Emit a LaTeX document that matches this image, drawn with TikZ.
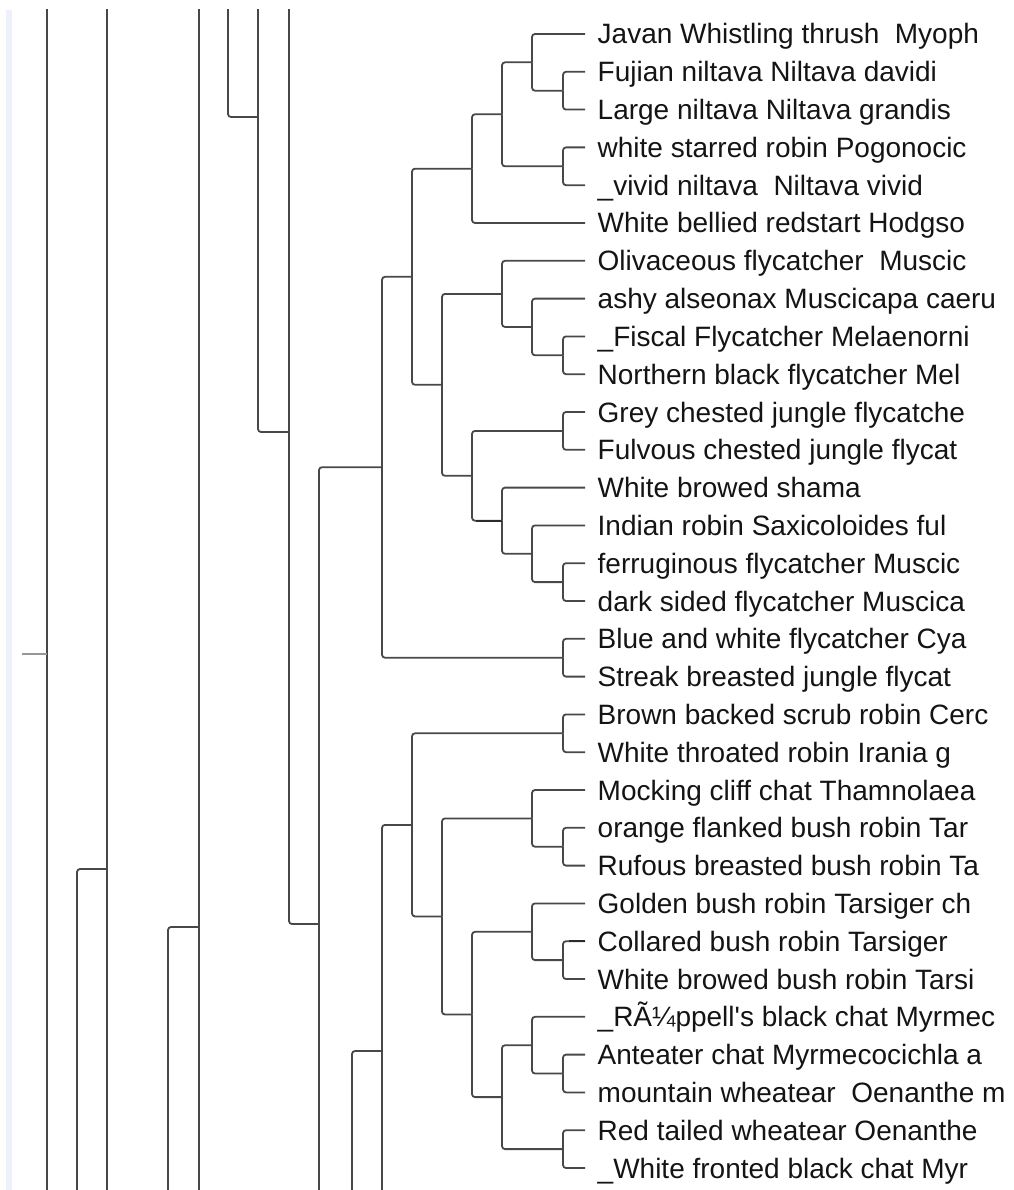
\documentclass[tikz,border=0pt]{standalone}
\usepackage{fontspec}
\setmainfont{Liberation Sans}[Ligatures={TeXOff,CommonOff}]
\definecolor{branch}{RGB}{72,72,72}
\definecolor{stubgray}{RGB}{150,150,150}
\definecolor{rail}{RGB}{237,242,250}
\definecolor{labelink}{RGB}{20,20,20}
\begin{document}
\begin{tikzpicture}[x=1pt,y=-1pt,
  edge/.style={draw=branch,line width=1.8pt,rounded corners=3pt},
  heavy/.style={draw=branch!60!black,line width=2.4pt},
  rootstub/.style={draw=stubgray,line width=1.8pt},
  tip/.style={anchor=west,inner xsep=12.5pt,inner ysep=0pt,
    text height=20pt,text depth=0pt,text=labelink,
    font=\fontsize{28}{30}\selectfont}]
\useasboundingbox (0,0) rectangle (1013,1190);
% scroll rail on the left edge
\fill[rail] (6,10) rectangle (12,1190);

% ---- tip labels (one row every 37.8 units) ----
\foreach \i/\t in {
 1/{Javan Whistling thrush \ Myoph},
 2/{Fujian niltava Niltava davidi},
 3/{Large niltava Niltava grandis},
 4/{white starred robin Pogonocic},
 5/{\_vivid niltava \ Niltava vivid},
 6/{White bellied redstart Hodgso},
 7/{Olivaceous flycatcher \ Muscic},
 8/{ashy alseonax Muscicapa caeru},
 9/{\_Fiscal Flycatcher Melaenorni},
 10/{Northern black flycatcher Mel},
 11/{Grey chested jungle flycatche},
 12/{Fulvous chested jungle flycat},
 13/{White browed shama},
 14/{Indian robin Saxicoloides ful},
 15/{ferruginous flycatcher Muscic},
 16/{dark sided flycatcher Muscica},
 17/{Blue and white flycatcher Cya},
 18/{Streak breasted jungle flycat},
 19/{Brown backed scrub robin Cerc},
 20/{White throated robin Irania g},
 21/{Mocking cliff chat Thamnolaea},
 22/{orange flanked bush robin Tar},
 23/{Rufous breasted bush robin Ta},
 24/{Golden bush robin Tarsiger ch},
 25/{Collared bush robin Tarsiger},
 26/{White browed bush robin Tarsi},
 27/{\_RÃ¼ppell's black chat Myrmec},
 28/{Anteater chat Myrmecocichla a},
 29/{mountain wheatear \ Oenanthe m},
 30/{Red tailed wheatear Oenanthe},
 31/{\_White fronted black chat Myr}}
 \node[tip] (l\i) at (585,{34+37.8*(\i-1)}) {\t};

% ---- internal nodes: (depth, midpoint of children) ----
% upper clade
\coordinate (a2) at (563,90.7);
\coordinate (a1) at (532,62.35);
\coordinate (a3) at (563,166.3);
\coordinate (a4) at (502,114.3);
\coordinate (a5) at (472,168.7);
\coordinate (b1) at (563,355.3);
\coordinate (b2) at (532,326.95);
\coordinate (b3) at (502,293.9);
\coordinate (b4) at (563,430.9);
\coordinate (b5) at (563,582.1);
\coordinate (b6) at (532,553.75);
\coordinate (b7) at (502,520.7);
\coordinate (b8) at (472,475.8);
\coordinate (b9) at (442,384.8);
\coordinate (c1) at (412,276.8);
\coordinate (c2) at (563,657.7);
\coordinate (c3) at (382,467.2);
% lower clade
\coordinate (d1) at (563,733.3);
\coordinate (d2) at (563,846.7);
\coordinate (d3) at (532,818.4);
\coordinate (d4) at (563,960.1);
\coordinate (d5) at (532,931.8);
\coordinate (d6) at (563,1073.5);
\coordinate (d7) at (532,1045.2);
\coordinate (d8) at (563,1149.1);
\coordinate (d9) at (502,1097.1);
\coordinate (d10) at (472,1014.5);
\coordinate (d11) at (442,916.4);
\coordinate (d12) at (412,824.9);
\coordinate (d13) at (382,1051);
\coordinate (d13b) at (420,1277);
\coordinate (d14) at (352,1380.8);
\coordinate (d14b) at (400,1710);
% deeper ancestors
\coordinate (c4) at (319,924);
\coordinate (c5) at (289,432);
\coordinate (c5a) at (320,-60);
\coordinate (e1) at (258,117);
\coordinate (e1a) at (300,-198);
\coordinate (e2) at (228,-300);
\coordinate (f1) at (199,927);
\coordinate (f1a) at (240,-400);
\coordinate (f1b) at (240,2254);
\coordinate (f0) at (168,1600);
\coordinate (g1) at (107,869);
\coordinate (g1a) at (150,-500);
\coordinate (g1b) at (150,2238);
\coordinate (g0) at (77,1600);
\coordinate (h) at (47,654);
\coordinate (ha) at (70,-800);
\coordinate (hb) at (70,2108);
\coordinate (root) at (22,654);

\begin{scope}
\clip (0,10) rectangle (1013,1190);
% upper clade
\draw[edge] (a2) |- (l2.west);  \draw[edge] (a2) |- (l3.west);
\draw[edge] (a1) |- (l1.west);  \draw[edge] (a1) |- (a2);
\draw[edge] (a3) |- (l4.west);  \draw[edge] (a3) |- (l5.west);
\draw[edge] (a4) |- (a1);       \draw[edge] (a4) |- (a3);
\draw[edge] (a5) |- (a4);       \draw[edge] (a5) |- (l6.west);
\draw[edge] (b1) |- (l9.west);  \draw[edge] (b1) |- (l10.west);
\draw[edge] (b2) |- (l8.west);  \draw[edge] (b2) |- (b1);
\draw[edge] (b3) |- (l7.west);  \draw[edge] (b3) |- (b2);
\draw[edge] (b4) |- (l11.west); \draw[edge] (b4) |- (l12.west);
\draw[edge] (b5) |- (l15.west); \draw[edge] (b5) |- (l16.west);
\draw[edge] (b6) |- (l14.west); \draw[edge] (b6) |- (b5);
\draw[edge] (b7) |- (l13.west); \draw[edge] (b7) |- (b6);
\draw[edge] (b8) |- (b4);       \draw[edge] (b8) |- (b7);
\draw[heavy] ([xshift=4pt]b8 |- b7) -- (b7);
\draw[edge] (b9) |- (b3);       \draw[edge] (b9) |- (b8);
\draw[edge] (c1) |- (a5);       \draw[edge] (c1) |- (b9);
\draw[edge] (c2) |- (l17.west); \draw[edge] (c2) |- (l18.west);
\draw[edge] (c3) |- (c1);       \draw[edge] (c3) |- (c2);
% lower clade
\draw[edge] (d1) |- (l19.west); \draw[edge] (d1) |- (l20.west);
\draw[edge] (d2) |- (l22.west); \draw[edge] (d2) |- (l23.west);
\draw[edge] (d3) |- (l21.west); \draw[edge] (d3) |- (d2);
\draw[edge] (d4) |- (l25.west); \draw[edge] (d4) |- (l26.west);
\draw[heavy] ([xshift=6pt]d4 |- l25.west) -- (l25.west);
\draw[edge] (d5) |- (l24.west); \draw[edge] (d5) |- (d4);
\draw[edge] (d6) |- (l28.west); \draw[edge] (d6) |- (l29.west);
\draw[edge] (d7) |- (l27.west); \draw[edge] (d7) |- (d6);
\draw[edge] (d8) |- (l30.west); \draw[edge] (d8) |- (l31.west);
\draw[edge] (d9) |- (d7);       \draw[edge] (d9) |- (d8);
\draw[edge] (d10) |- (d5);      \draw[edge] (d10) |- (d9);
\draw[edge] (d11) |- (d3);      \draw[edge] (d11) |- (d10);
\draw[edge] (d12) |- (d1);      \draw[edge] (d12) |- (d11);
\draw[edge] (d13) |- (d12);     \draw[edge] (d13) |- (d13b);
\draw[edge] (d14) |- (d13);     \draw[edge] (d14) |- (d14b);
% deeper ancestors
\draw[edge] (c4) |- (c3);       \draw[edge] (c4) |- (d14);
\draw[edge] (c5) |- (c5a);      \draw[edge] (c5) |- (c4);
\draw[edge] (e1) |- (e1a);      \draw[edge] (e1) |- (c5);
\draw[edge] (e2) |- (e1);
\draw[edge] (f1) |- (f1a);      \draw[edge] (f1) |- (f1b);
\draw[edge] (f0) |- (f1);
\draw[edge] (g1) |- (g1a);      \draw[edge] (g1) |- (g1b);
\draw[edge] (g0) |- (g1);
\draw[edge] (h) |- (ha);        \draw[edge] (h) |- (hb);
\draw[rootstub] (root) -- (h);
\end{scope}
\end{tikzpicture}
\end{document}
